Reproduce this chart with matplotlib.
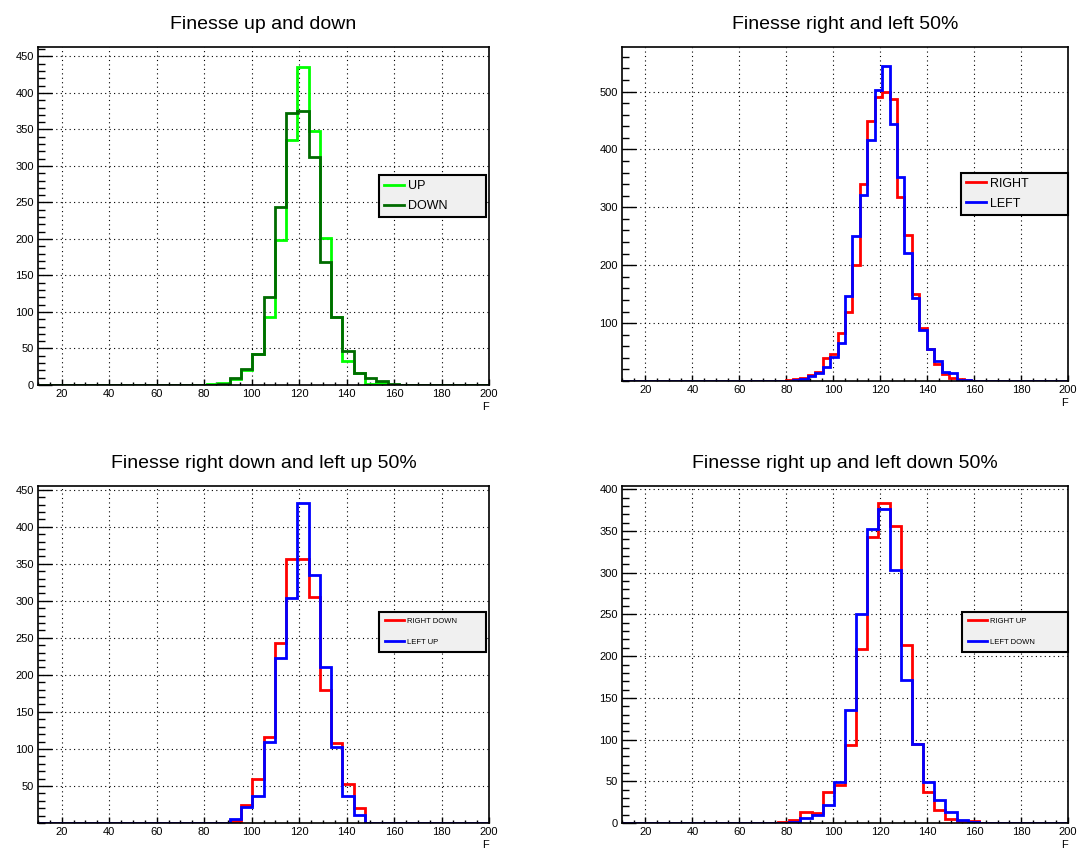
import numpy as np
import matplotlib
matplotlib.use("Agg")
import matplotlib.pyplot as plt
from matplotlib.ticker import MultipleLocator, FixedLocator

plt.rcParams["font.family"] = ["Liberation Sans", "DejaVu Sans"]

# 40 bins from 10 to 200 (panels 1, 3, 4), 60 bins for panel 2
EDGES_40 = np.linspace(10, 200, 41)
EDGES_60 = np.linspace(10, 200, 61)

up = [0, 0, 0, 0, 0, 0, 0, 0, 0, 0, 0, 0, 0, 0, 0, 2, 3, 8, 20, 42,
      93, 198, 335, 435, 348, 202, 93, 33, 16, 2, 3, 0, 0, 0, 0, 0, 0, 0, 0, 0]
down = [0, 0, 0, 0, 0, 0, 0, 0, 0, 0, 0, 0, 0, 0, 0, 0, 2, 10, 22, 42,
        120, 244, 372, 376, 312, 168, 93, 47, 16, 10, 5, 2, 0, 0, 0, 0, 0, 0, 0, 0]

right = [0] * 22 + [1, 3, 6, 11, 16, 40, 47, 83, 120, 200, 341, 450, 490, 499,
                    487, 318, 253, 151, 91, 55, 30, 12, 6, 3, 2] + [0] * 13
left = [0] * 22 + [0, 1, 3, 8, 13, 24, 41, 65, 146, 251, 322, 417, 503, 545,
                   444, 353, 221, 144, 88, 55, 34, 15, 14, 2, 1] + [0] * 13

right_down = [0, 0, 0, 0, 0, 0, 0, 0, 0, 0, 0, 0, 0, 0, 0, 0, 0, 3, 24, 59,
              116, 243, 356, 357, 305, 180, 108, 52, 20, 0, 0, 0, 0, 0, 0, 0, 0, 0, 0, 0]
left_up = [0, 0, 0, 0, 0, 0, 0, 0, 0, 0, 0, 0, 0, 0, 0, 0, 0, 5, 22, 36,
           109, 223, 304, 432, 335, 211, 103, 36, 11, 0, 0, 0, 0, 0, 0, 0, 0, 0, 0, 0]

right_up = [0, 0, 0, 0, 0, 0, 0, 0, 0, 0, 0, 0, 0, 0, 1, 3, 13, 12, 37, 46,
            93, 209, 343, 384, 356, 213, 95, 37, 16, 5, 2, 2, 0, 0, 0, 0, 0, 0, 0, 0]
left_down = [0, 0, 0, 0, 0, 0, 0, 0, 0, 0, 0, 0, 0, 0, 0, 1, 6, 10, 21, 49,
             135, 250, 353, 377, 303, 171, 95, 49, 27, 13, 3, 1, 0, 0, 0, 0, 0, 0, 0, 0]

W, H = 1081, 849


def frame(x0, y0, x1, y1):
    return [x0 / W, 1 - y1 / H, (x1 - x0) / W, (y1 - y0) / H]


big_leg = dict(fontsize=9, handlelength=1.6, handletextpad=0.3, labelspacing=0.65, borderpad=0.4)
small_leg = dict(fontsize=5.5, handlelength=2.5, handletextpad=0.4, labelspacing=1.75, borderpad=0.75)

panels = [
    dict(box=frame(38, 47, 489, 385), title="Finesse up and down", edges=EDGES_40,
         series=[(up, "UP", "#00ff00"), (down, "DOWN", "#006b00")],
         ymax=463, ystep=50, yminor=10, show0=True, legopt=big_leg,
         leg=(0.756, 0.494, 0.237, 0.127)),
    dict(box=frame(622, 47, 1068, 381), title="Finesse right and left 50%", edges=EDGES_60,
         series=[(right, "RIGHT", "#ff0000"), (left, "LEFT", "#0000ff")],
         ymax=577, ystep=100, yminor=20, show0=False, legopt=big_leg,
         leg=(0.760, 0.50, 0.240, 0.124)),
    dict(box=frame(38, 486, 489, 823), title="Finesse right down and left up 50%", edges=EDGES_40,
         series=[(right_down, "RIGHT DOWN", "#ff0000"), (left_up, "LEFT UP", "#0000ff")],
         ymax=455, ystep=50, yminor=10, show0=False, legopt=small_leg,
         leg=(0.756, 0.499, 0.237, 0.127)),
    dict(box=frame(622, 486, 1068, 823), title="Finesse right up and left down 50%", edges=EDGES_40,
         series=[(right_up, "RIGHT UP", "#ff0000"), (left_down, "LEFT DOWN", "#0000ff")],
         ymax=404, ystep=50, yminor=10, show0=True, legopt=small_leg,
         leg=(0.762, 0.499, 0.238, 0.127)),
]

fig = plt.figure(figsize=(W / 100, H / 100), dpi=100)

for p in panels:
    ax = fig.add_axes(p["box"])
    for vals, name, col in p["series"]:
        ax.stairs(vals, p["edges"], color=col, lw=2, label=name)
    ax.set_xlim(10, 200)
    ax.set_ylim(0, p["ymax"])

    ax.xaxis.set_major_locator(MultipleLocator(20))
    ax.xaxis.set_minor_locator(MultipleLocator(5))
    start = 0 if p["show0"] else p["ystep"]
    ax.yaxis.set_major_locator(FixedLocator(np.arange(start, p["ymax"], p["ystep"])))
    ax.yaxis.set_minor_locator(MultipleLocator(p["yminor"]))

    ax.tick_params(axis="x", which="major", direction="in", length=4.5, width=1, labelsize=8, pad=3)
    ax.tick_params(axis="x", which="minor", direction="in", length=2.3, width=1)
    ax.tick_params(axis="y", which="major", direction="in", length=10, width=1, labelsize=8, pad=3)
    ax.tick_params(axis="y", which="minor", direction="in", length=5, width=1)

    ax.grid(True, which="major", color="black", linestyle=(0, (1, 3)), lw=0.8)
    ax.set_axisbelow(True)
    for s in ax.spines.values():
        s.set_linewidth(1.2)

    ax.set_title(p["title"], fontsize=14, pad=13)
    ax.set_xlabel("F", loc="right", fontsize=8, labelpad=2)

    leg = ax.legend(loc="upper left", bbox_to_anchor=p["leg"], mode="expand",
                    borderaxespad=0, fancybox=False, framealpha=1,
                    facecolor="#f0f0f0", edgecolor="black", **p["legopt"])
    leg.get_frame().set_linewidth(1.5)

fig.savefig("out.png", dpi=100)
